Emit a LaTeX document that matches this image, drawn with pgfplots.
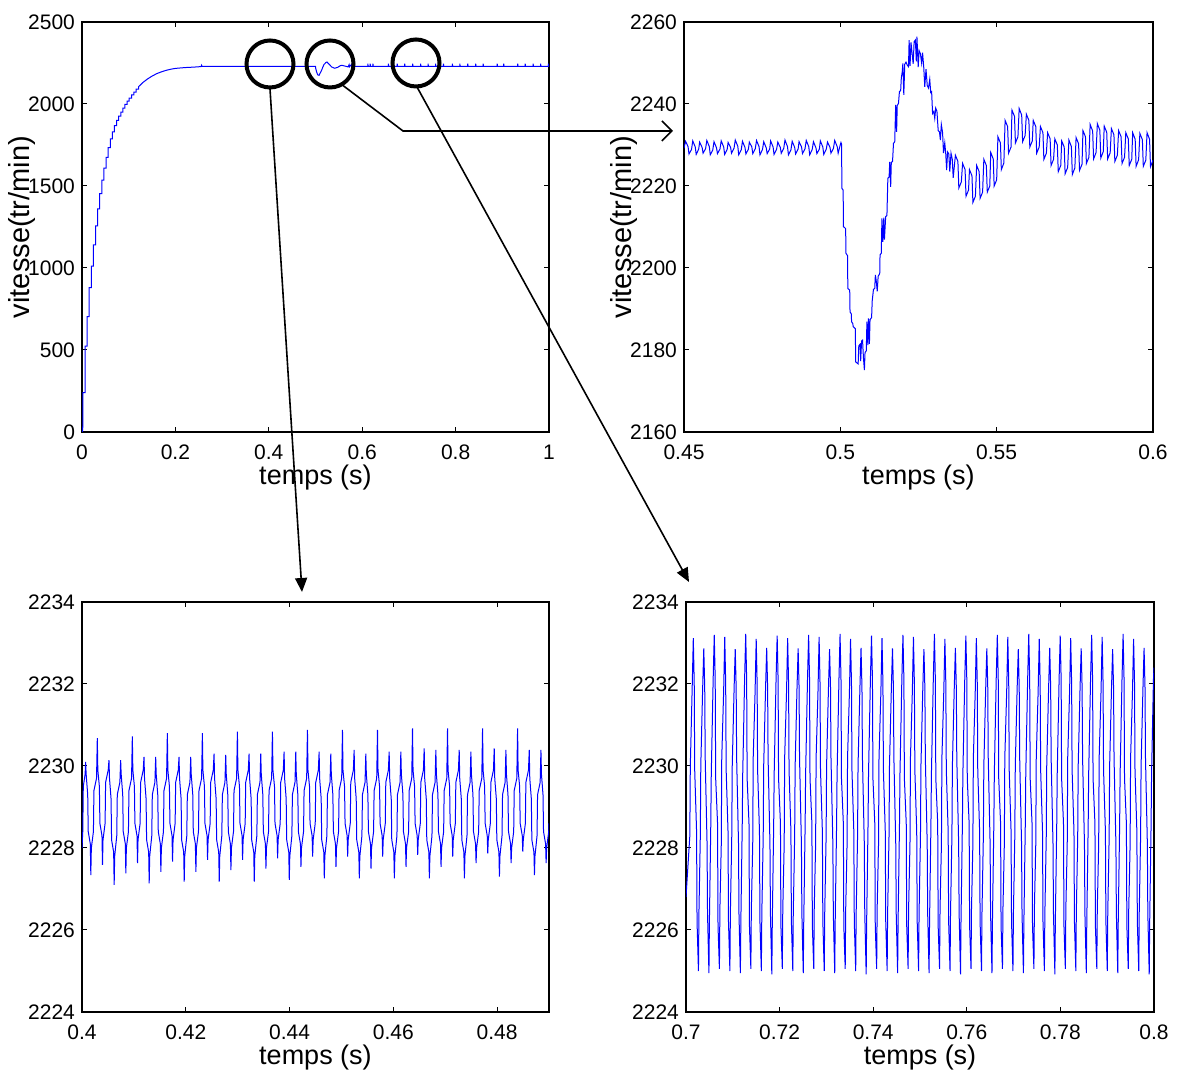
\documentclass[border=0pt]{standalone}
\usepackage{pgfplots}
\pgfplotsset{compat=1.18}
\usepackage{fontspec}
\setmainfont{Liberation Sans}
\usetikzlibrary{arrows.meta}
\pgfplotsset{
  mat/.style={
    scale only axis, anchor=south west, height=205pt,
    tick align=inside, major tick length=2.5pt,
    every tick/.style={black, line width=0.5pt},
    axis line style={line width=0.6pt},
    /pgf/number format/assume math mode=true,
    /pgf/number format/1000 sep={},
    scaled ticks=false,
    ticklabel style={font=\fontsize{10.5}{12}\selectfont},
    xticklabel style={anchor=center, yshift=-10pt},
    xlabel style={font=\fontsize{13.5}{15}\selectfont, at={(axis description cs:0.5,-0.112)}, anchor=center},
    ylabel style={font=\fontsize{14.5}{16}\selectfont, at={(axis description cs:-0.128,0.5)}, anchor=center},
  },
  sig/.style={blue, line width=0.5pt, mark=none},
}
\begin{document}
\begin{tikzpicture}
\path[use as bounding box] (0,0) rectangle (589.5pt,535pt);

% top-left
\begin{axis}[mat, at={(41pt,319pt)}, width=233.5pt,
  xmin=0, xmax=1, ymin=0, ymax=2500,
  xtick={0,0.2,0.4,0.6,0.8,1}, ytick={0,500,1000,1500,2000,2500},
  xlabel={temps (s)}, ylabel={vitesse(tr/min)}]
\addplot[sig] coordinates {
(0,0) (0.0015,0) (0.0015,30) (0.002,30) (0.002,240) (0.0065,240) (0.0065,524) (0.011,524) (0.011,704) (0.0155,704) (0.0155,880) (0.02,880) (0.02,1011) (0.0245,1011) (0.0245,1141) (0.029,1141) (0.029,1257) (0.0335,1257) (0.0335,1360) (0.038,1360) (0.038,1453) (0.0425,1453) (0.0425,1536) (0.047,1536) (0.047,1609) (0.0515,1609) (0.0515,1675) (0.056,1675) (0.056,1734) (0.0605,1734) (0.0605,1787) (0.065,1787) (0.065,1830) (0.0695,1830) (0.0695,1868) (0.074,1868) (0.074,1900) (0.0785,1900) (0.0785,1926) (0.083,1926) (0.083,1950) (0.0875,1950) (0.0875,1975) (0.092,1975) (0.092,1998) (0.0965,1998) (0.0965,2018) (0.101,2018) (0.101,2036) (0.106,2036) (0.106,2055) (0.111,2055) (0.111,2073) (0.116,2073) (0.116,2090) (0.121,2090) (0.121,2105) (0.13,2130) (0.14,2152) (0.15,2170) (0.16,2185) (0.17,2196) (0.18,2205) (0.19,2212) (0.2,2217) (0.22,2222) (0.24,2225) (0.255,2228) (0.256,2236) (0.257,2229) (0.26,2229)
(0.5,2229) (0.5004,2218) (0.5024,2195) (0.5049,2177) (0.5077,2175) (0.5095,2186) (0.5127,2203) (0.5153,2222) (0.518,2240) (0.522,2252) (0.5247,2256) (0.527,2248) (0.53,2240) (0.5345,2226) (0.541,2218) (0.548,2224) (0.552,2232) (0.556,2236) (0.562,2232) (0.57,2226) (0.572,2240) (0.573,2227) (0.577,2241) (0.578,2228) (0.58,2232) (0.582,2244) (0.583,2230) (0.59,2229) (0.6,2229)
(0.612,2229) (0.612,2246) (0.6128,2229) (0.617,2229) (0.617,2246) (0.6178,2229) (0.623,2229) (0.623,2246) (0.6238,2229)
(0.656,2229) (0.656,2246) (0.6568,2229) (0.675,2229) (0.675,2246) (0.6758,2229) (0.691,2229) (0.691,2246) (0.6918,2229)
(0.708,2229) (0.708,2246) (0.7088,2229) (0.725,2229) (0.725,2246) (0.7258,2229) (0.741,2229) (0.741,2246) (0.7418,2229)
(0.757,2229) (0.757,2246) (0.7578,2229) (0.774,2229) (0.774,2246) (0.7748,2229) (0.793,2229) (0.793,2246) (0.7938,2229)
(0.809,2229) (0.809,2246) (0.8098,2229) (0.826,2229) (0.826,2246) (0.8268,2229) (0.843,2229) (0.843,2246) (0.8438,2229)
(0.859,2229) (0.859,2246) (0.8598,2229) (0.889,2229) (0.889,2246) (0.8898,2229) (0.903,2229) (0.903,2246) (0.9038,2229)
(0.933,2229) (0.933,2246) (0.9338,2229) (0.949,2229) (0.949,2246) (0.9498,2229) (0.966,2229) (0.966,2246) (0.9668,2229)
(0.982,2229) (0.982,2246) (0.9828,2229) (0.9985,2229) (0.9985,2246) (0.9993,2229) (1,2229)
};
\end{axis}

% top-right
\begin{axis}[mat, at={(342pt,319pt)}, width=234.5pt,
  xmin=0.45, xmax=0.6, ymin=2160, ymax=2260,
  xtick={0.45,0.5,0.55,0.6}, ytick={2160,2180,2200,2220,2240,2260},
  xlabel={temps (s)}, ylabel={vitesse(tr/min)}]
\addplot[sig] coordinates {
(0.4500,2229.2)
(0.4505,2230.9) (0.4513,2229.6) (0.4516,2227.8) (0.4524,2228.9)
(0.4528,2231.0) (0.4536,2229.5) (0.4539,2227.7) (0.4547,2229.0)
(0.4550,2230.7) (0.4558,2229.4) (0.4561,2228.0) (0.4569,2229.1)
(0.4573,2231.1) (0.4581,2229.6) (0.4584,2227.6) (0.4592,2228.8)
(0.4596,2230.8) (0.4604,2229.3) (0.4607,2227.9) (0.4615,2229.0)
(0.4619,2231.0) (0.4627,2229.5) (0.4630,2227.7) (0.4638,2228.9)
(0.4641,2230.6) (0.4649,2229.4) (0.4652,2228.0) (0.4660,2229.2)
(0.4664,2231.2) (0.4672,2229.7) (0.4675,2227.6) (0.4683,2228.8)
(0.4687,2230.9) (0.4695,2229.4) (0.4698,2227.8) (0.4706,2229.0)
(0.4709,2230.7) (0.4717,2229.5) (0.4720,2227.9) (0.4728,2229.1)
(0.4732,2231.1) (0.4740,2229.6) (0.4743,2227.6) (0.4751,2228.9)
(0.4755,2230.8) (0.4763,2229.3) (0.4766,2227.9) (0.4774,2229.0)
(0.4777,2231.0) (0.4785,2229.5) (0.4788,2227.7) (0.4796,2228.9)
(0.4800,2230.7) (0.4808,2229.4) (0.4811,2228.0) (0.4819,2229.2)
(0.4823,2231.2) (0.4831,2229.6) (0.4834,2227.6) (0.4842,2228.8)
(0.4846,2230.9) (0.4854,2229.4) (0.4857,2227.8) (0.4865,2229.0)
(0.4868,2230.8) (0.4876,2229.5) (0.4879,2227.9) (0.4887,2229.1)
(0.4891,2231.1) (0.4899,2229.6) (0.4902,2227.6) (0.4910,2228.9)
(0.4914,2230.8) (0.4922,2229.3) (0.4925,2227.9) (0.4933,2229.0)
(0.4936,2231.0) (0.4944,2229.5) (0.4947,2227.7) (0.4955,2229.0)
(0.4959,2230.7) (0.4967,2229.4) (0.4970,2228.0) (0.4978,2229.2)
(0.4982,2231.1) (0.4990,2229.6) (0.4993,2228.0) (0.4999,2229.8)
(0.5002,2230.6) (0.5004,2230.2)
(0.5005,2219.4) (0.5009,2219.0) (0.5010,2210.1) (0.5017,2209.6) (0.5018,2203.6) (0.5023,2203.0) (0.5024,2195.0) (0.5030,2194.6)
(0.5031,2189.3) (0.5035,2188.8) (0.5036,2186.9) (0.5040,2186.4) (0.5041,2185.7) (0.5048,2185.2) (0.5049,2177.1) (0.5057,2176.6)
(0.5059,2181.0) (0.5063,2181.4) (0.5065,2177.3) (0.5068,2182.2) (0.5071,2182.4) (0.5074,2178.0) (0.5077,2175.1) (0.5079,2179.4)
(0.5083,2179.8) (0.5085,2186.9) (0.5088,2181.2) (0.5090,2187.7) (0.5093,2181.5) (0.5095,2187.4) (0.5100,2187.9) (0.5102,2192.0)
(0.5106,2194.8) (0.5110,2195.0) (0.5112,2198.3) (0.5115,2196.8) (0.5118,2194.3) (0.5121,2198.0) (0.5126,2198.6) (0.5127,2203.2)
(0.5131,2203.6) (0.5133,2212.1) (0.5136,2206.4) (0.5139,2212.3) (0.5141,2206.9) (0.5145,2212.5) (0.5149,2212.8) (0.5152,2221.9)
(0.5156,2222.2) (0.5158,2225.9) (0.5161,2219.8) (0.5163,2225.7) (0.5167,2226.0) (0.5170,2230.4) (0.5174,2230.8) (0.5177,2239.8)
(0.5180,2233.2) (0.5182,2239.6) (0.5186,2240.2) (0.5189,2243.0) (0.5193,2243.3) (0.5195,2246.3) (0.5198,2247.9) (0.5200,2249.9)
(0.5203,2242.2) (0.5206,2249.7) (0.5210,2250.2) (0.5214,2249.5) (0.5218,2249.1) (0.5220,2255.6) (0.5223,2249.3) (0.5226,2255.0)
(0.5230,2252.0) (0.5233,2249.8) (0.5236,2255.2) (0.5240,2255.6) (0.5243,2250.4) (0.5245,2256.4) (0.5249,2249.0) (0.5252,2253.0)
(0.5256,2252.3) (0.5260,2250.0) (0.5263,2252.5) (0.5267,2248.7) (0.5270,2244.2) (0.5274,2248.5) (0.5278,2244.5) (0.5282,2243.9)
(0.5286,2246.0) (0.5289,2242.8) (0.5292,2243.0) (0.5295,2237.7) (0.5299,2238.2) (0.5302,2236.5) (0.5305,2239.0) (0.5309,2238.2)
(0.5313,2233.5) (0.5317,2233.2) (0.5320,2231.2) (0.5323,2235.0) (0.5327,2233.0) (0.5330,2228.0) (0.5334,2230.5) (0.5337,2228.0)
(0.5340,2223.9) (0.5343,2228.3) (0.5347,2227.8) (0.5350,2223.5) (0.5354,2228.0) (0.5358,2226.5) (0.5361,2222.0)
(0.5368,2227.5) (0.5376,2226.0) (0.5379,2219.5) (0.5387,2221.0)
(0.5391,2225.5) (0.5399,2224.0) (0.5402,2217.5) (0.5410,2219.0)
(0.5413,2224.0) (0.5421,2222.5) (0.5424,2216.0) (0.5432,2217.5)
(0.5436,2225.0) (0.5444,2223.5) (0.5447,2217.0) (0.5455,2218.5)
(0.5459,2226.5) (0.5467,2225.0) (0.5470,2218.5) (0.5478,2220.0)
(0.5481,2228.2) (0.5489,2226.6) (0.5492,2220.0) (0.5500,2221.5)
(0.5504,2232.0) (0.5512,2230.5) (0.5515,2224.0) (0.5523,2225.6)
(0.5527,2236.0) (0.5535,2234.5) (0.5538,2228.0) (0.5546,2229.5)
(0.5549,2238.5) (0.5557,2237.0) (0.5560,2230.5) (0.5568,2232.0)
(0.5572,2238.9) (0.5580,2237.3) (0.5583,2230.8) (0.5591,2232.3)
(0.5595,2237.5) (0.5603,2236.0) (0.5606,2229.5) (0.5614,2231.0)
(0.5617,2236.0) (0.5625,2234.5) (0.5628,2228.0) (0.5636,2229.5)
(0.5640,2234.5) (0.5648,2233.0) (0.5651,2226.5) (0.5659,2228.0)
(0.5663,2233.0) (0.5671,2231.5) (0.5674,2225.0) (0.5682,2226.5)
(0.5686,2231.5) (0.5694,2230.0) (0.5697,2223.5) (0.5705,2225.0)
(0.5708,2231.0) (0.5716,2229.5) (0.5719,2223.0) (0.5727,2224.5)
(0.5731,2231.2) (0.5739,2229.6) (0.5742,2222.8) (0.5750,2224.4)
(0.5754,2231.8) (0.5762,2230.3) (0.5765,2223.8) (0.5773,2225.3)
(0.5776,2233.5) (0.5784,2232.0) (0.5787,2225.5) (0.5795,2227.0)
(0.5799,2235.0) (0.5807,2233.4) (0.5810,2226.6) (0.5818,2228.2)
(0.5822,2235.2) (0.5830,2233.6) (0.5833,2226.8) (0.5841,2228.4)
(0.5844,2234.6) (0.5852,2233.1) (0.5855,2226.6) (0.5863,2228.1)
(0.5867,2234.0) (0.5875,2232.5) (0.5878,2226.0) (0.5886,2227.5)
(0.5890,2233.5) (0.5898,2232.0) (0.5901,2225.5) (0.5909,2227.0)
(0.5913,2233.0) (0.5921,2231.5) (0.5924,2225.0) (0.5932,2226.5)
(0.5935,2233.0) (0.5943,2231.4) (0.5946,2224.8) (0.5954,2226.4)
(0.5958,2232.8) (0.5966,2231.3) (0.5969,2224.8) (0.5977,2226.3)
(0.5981,2233.0) (0.5989,2231.4) (0.5992,2224.7) (0.6000,2226.3)
};
\end{axis}

% bottom-left
\begin{axis}[mat, at={(41pt,29pt)}, width=233.5pt,
  xmin=0.4, xmax=0.49, ymin=2224, ymax=2234,
  xtick={0.4,0.42,0.44,0.46,0.48}, ytick={2224,2226,2228,2230,2232,2234},
  xlabel={temps (s)}]
\addplot[sig] coordinates {
(0.40000,2228.0) (0.40015,2228.4) (0.40025,2229.5) (0.40060,2229.8)
(0.40070,2230.10) (0.40080,2229.8) (0.40110,2229.3) (0.40120,2228.4) (0.40160,2228.1) (0.40170,2227.34) (0.40180,2228.0) (0.40220,2228.4) (0.40230,2229.4) (0.40280,2229.7)
(0.40295,2230.68) (0.40305,2229.9) (0.40335,2229.5) (0.40345,2228.6) (0.40385,2228.3) (0.40395,2227.59) (0.40405,2228.2) (0.40445,2228.6) (0.40455,2229.6) (0.40505,2229.9)
(0.40520,2230.14) (0.40530,2229.7) (0.40560,2229.2) (0.40570,2228.2) (0.40610,2227.9) (0.40620,2227.10) (0.40630,2227.8) (0.40670,2228.3) (0.40680,2229.3) (0.40730,2229.6)
(0.40745,2230.14) (0.40755,2229.8) (0.40785,2229.3) (0.40795,2228.4) (0.40835,2228.1) (0.40845,2227.38) (0.40855,2228.0) (0.40895,2228.4) (0.40905,2229.4) (0.40955,2229.7)
(0.40970,2230.72) (0.40980,2229.9) (0.41010,2229.5) (0.41020,2228.6) (0.41060,2228.3) (0.41070,2227.63) (0.41080,2228.2) (0.41120,2228.6) (0.41130,2229.6) (0.41180,2229.9)
(0.41195,2230.22) (0.41205,2229.7) (0.41235,2229.2) (0.41245,2228.2) (0.41285,2227.9) (0.41295,2227.14) (0.41305,2227.8) (0.41345,2228.3) (0.41355,2229.3) (0.41405,2229.6)
(0.41420,2230.22) (0.41430,2229.8) (0.41460,2229.3) (0.41470,2228.4) (0.41510,2228.1) (0.41520,2227.42) (0.41530,2228.0) (0.41570,2228.4) (0.41580,2229.4) (0.41630,2229.7)
(0.41645,2230.80) (0.41655,2229.9) (0.41685,2229.5) (0.41695,2228.6) (0.41735,2228.3) (0.41745,2227.67) (0.41755,2228.2) (0.41795,2228.6) (0.41805,2229.6) (0.41855,2229.9)
(0.41870,2230.22) (0.41880,2229.7) (0.41910,2229.2) (0.41920,2228.2) (0.41960,2227.9) (0.41970,2227.18) (0.41980,2227.8) (0.42020,2228.3) (0.42030,2229.3) (0.42080,2229.6)
(0.42095,2230.22) (0.42105,2229.8) (0.42135,2229.3) (0.42145,2228.4) (0.42185,2228.1) (0.42195,2227.42) (0.42205,2228.0) (0.42245,2228.4) (0.42255,2229.4) (0.42305,2229.7)
(0.42320,2230.80) (0.42330,2229.9) (0.42360,2229.5) (0.42370,2228.6) (0.42410,2228.3) (0.42420,2227.71) (0.42430,2228.2) (0.42470,2228.6) (0.42480,2229.6) (0.42530,2229.9)
(0.42545,2230.30) (0.42555,2229.7) (0.42585,2229.2) (0.42595,2228.2) (0.42635,2227.9) (0.42645,2227.18) (0.42655,2227.8) (0.42695,2228.3) (0.42705,2229.3) (0.42755,2229.6)
(0.42770,2230.27) (0.42780,2229.8) (0.42810,2229.3) (0.42820,2228.4) (0.42860,2228.1) (0.42870,2227.46) (0.42880,2228.0) (0.42920,2228.4) (0.42930,2229.4) (0.42980,2229.7)
(0.42995,2230.84) (0.43005,2229.9) (0.43035,2229.5) (0.43045,2228.6) (0.43085,2228.3) (0.43095,2227.71) (0.43105,2228.2) (0.43145,2228.6) (0.43155,2229.6) (0.43205,2229.9)
(0.43220,2230.30) (0.43230,2229.7) (0.43260,2229.2) (0.43270,2228.2) (0.43310,2227.9) (0.43320,2227.18) (0.43330,2227.8) (0.43370,2228.3) (0.43380,2229.3) (0.43430,2229.6)
(0.43445,2230.30) (0.43455,2229.8) (0.43485,2229.3) (0.43495,2228.4) (0.43535,2228.1) (0.43545,2227.50) (0.43555,2228.0) (0.43595,2228.4) (0.43605,2229.4) (0.43655,2229.7)
(0.43670,2230.84) (0.43680,2229.9) (0.43710,2229.5) (0.43720,2228.6) (0.43760,2228.3) (0.43770,2227.75) (0.43780,2228.2) (0.43820,2228.6) (0.43830,2229.6) (0.43880,2229.9)
(0.43895,2230.35) (0.43905,2229.7) (0.43935,2229.2) (0.43945,2228.2) (0.43985,2227.9) (0.43995,2227.22) (0.44005,2227.8) (0.44045,2228.3) (0.44055,2229.3) (0.44105,2229.6)
(0.44120,2230.35) (0.44130,2229.8) (0.44160,2229.3) (0.44170,2228.4) (0.44210,2228.1) (0.44220,2227.54) (0.44230,2228.0) (0.44270,2228.4) (0.44280,2229.4) (0.44330,2229.7)
(0.44345,2230.88) (0.44355,2229.9) (0.44385,2229.5) (0.44395,2228.6) (0.44435,2228.3) (0.44445,2227.79) (0.44455,2228.2) (0.44495,2228.6) (0.44505,2229.6) (0.44555,2229.9)
(0.44570,2230.35) (0.44580,2229.7) (0.44610,2229.2) (0.44620,2228.2) (0.44660,2227.9) (0.44670,2227.26) (0.44680,2227.8) (0.44720,2228.3) (0.44730,2229.3) (0.44780,2229.6)
(0.44795,2230.30) (0.44805,2229.8) (0.44835,2229.3) (0.44845,2228.4) (0.44885,2228.1) (0.44895,2227.54) (0.44905,2228.0) (0.44945,2228.4) (0.44955,2229.4) (0.45005,2229.7)
(0.45020,2230.88) (0.45030,2229.9) (0.45060,2229.5) (0.45070,2228.6) (0.45110,2228.3) (0.45120,2227.79) (0.45130,2228.2) (0.45170,2228.6) (0.45180,2229.6) (0.45230,2229.9)
(0.45245,2230.39) (0.45255,2229.7) (0.45285,2229.2) (0.45295,2228.2) (0.45335,2227.9) (0.45345,2227.26) (0.45355,2227.8) (0.45395,2228.3) (0.45405,2229.3) (0.45455,2229.6)
(0.45470,2230.30) (0.45480,2229.8) (0.45510,2229.3) (0.45520,2228.4) (0.45560,2228.1) (0.45570,2227.50) (0.45580,2228.0) (0.45620,2228.4) (0.45630,2229.4) (0.45680,2229.7)
(0.45695,2230.88) (0.45705,2229.9) (0.45735,2229.5) (0.45745,2228.6) (0.45785,2228.3) (0.45795,2227.79) (0.45805,2228.2) (0.45845,2228.6) (0.45855,2229.6) (0.45905,2229.9)
(0.45920,2230.35) (0.45930,2229.7) (0.45960,2229.2) (0.45970,2228.2) (0.46010,2227.9) (0.46020,2227.26) (0.46030,2227.8) (0.46070,2228.3) (0.46080,2229.3) (0.46130,2229.6)
(0.46145,2230.35) (0.46155,2229.8) (0.46185,2229.3) (0.46195,2228.4) (0.46235,2228.1) (0.46245,2227.54) (0.46255,2228.0) (0.46295,2228.4) (0.46305,2229.4) (0.46355,2229.7)
(0.46370,2230.92) (0.46380,2229.9) (0.46410,2229.5) (0.46420,2228.6) (0.46460,2228.3) (0.46470,2227.83) (0.46480,2228.2) (0.46520,2228.6) (0.46530,2229.6) (0.46580,2229.9)
(0.46595,2230.43) (0.46605,2229.7) (0.46635,2229.2) (0.46645,2228.2) (0.46685,2227.9) (0.46695,2227.26) (0.46705,2227.8) (0.46745,2228.3) (0.46755,2229.3) (0.46805,2229.6)
(0.46820,2230.39) (0.46830,2229.8) (0.46860,2229.3) (0.46870,2228.4) (0.46910,2228.1) (0.46920,2227.54) (0.46930,2228.0) (0.46970,2228.4) (0.46980,2229.4) (0.47030,2229.7)
(0.47045,2230.92) (0.47055,2229.9) (0.47085,2229.5) (0.47095,2228.6) (0.47135,2228.3) (0.47145,2227.79) (0.47155,2228.2) (0.47195,2228.6) (0.47205,2229.6) (0.47255,2229.9)
(0.47270,2230.39) (0.47280,2229.7) (0.47310,2229.2) (0.47320,2228.2) (0.47360,2227.9) (0.47370,2227.26) (0.47380,2227.8) (0.47420,2228.3) (0.47430,2229.3) (0.47480,2229.6)
(0.47495,2230.35) (0.47505,2229.8) (0.47535,2229.3) (0.47545,2228.4) (0.47585,2228.1) (0.47595,2227.63) (0.47605,2228.0) (0.47645,2228.4) (0.47655,2229.4) (0.47705,2229.7)
(0.47720,2230.92) (0.47730,2229.9) (0.47760,2229.5) (0.47770,2228.6) (0.47810,2228.3) (0.47820,2227.87) (0.47830,2228.2) (0.47870,2228.6) (0.47880,2229.6) (0.47930,2229.9)
(0.47945,2230.43) (0.47955,2229.7) (0.47985,2229.2) (0.47995,2228.2) (0.48035,2227.9) (0.48045,2227.30) (0.48055,2227.8) (0.48095,2228.3) (0.48105,2229.3) (0.48155,2229.6)
(0.48170,2230.39) (0.48180,2229.8) (0.48210,2229.3) (0.48220,2228.4) (0.48260,2228.1) (0.48270,2227.63) (0.48280,2228.0) (0.48320,2228.4) (0.48330,2229.4) (0.48380,2229.7)
(0.48395,2230.92) (0.48405,2229.9) (0.48435,2229.5) (0.48445,2228.6) (0.48485,2228.3) (0.48495,2227.91) (0.48505,2228.2) (0.48545,2228.6) (0.48555,2229.6) (0.48605,2229.9)
(0.48620,2230.39) (0.48630,2229.7) (0.48660,2229.2) (0.48670,2228.2) (0.48710,2227.9) (0.48720,2227.34) (0.48730,2227.8) (0.48770,2228.3) (0.48780,2229.3) (0.48830,2229.6)
(0.48845,2230.39) (0.48855,2229.8) (0.48885,2229.3) (0.48895,2228.4) (0.48935,2228.1) (0.48945,2227.63) (0.48955,2228.0) (0.48995,2228.4) (0.49000,2228.6)
};
\end{axis}

% bottom-right
\begin{axis}[mat, at={(343pt,29pt)}, width=234pt,
  xmin=0.7, xmax=0.8, ymin=2224, ymax=2234,
  xtick={0.7,0.72,0.74,0.76,0.78,0.8}, ytick={2224,2226,2228,2230,2232,2234},
  xlabel={temps (s)}]
\addplot[sig] coordinates {
(0.70000,2226.8) (0.70082,2228.3) (0.70092,2230.0) (0.70132,2231.9)
(0.70156,2233.12) (0.70176,2232.0) (0.70186,2229.9) (0.70226,2228.4) (0.70236,2226.2) (0.70266,2225.00) (0.70276,2226.4) (0.70306,2228.3) (0.70316,2230.0) (0.70356,2231.9)
(0.70380,2232.87) (0.70400,2231.9) (0.70410,2230.2) (0.70450,2228.1) (0.70460,2226.4) (0.70490,2224.95) (0.70500,2226.2) (0.70530,2228.6) (0.70540,2229.8) (0.70580,2232.1)
(0.70604,2233.20) (0.70624,2232.1) (0.70634,2229.7) (0.70674,2228.6) (0.70684,2226.1) (0.70714,2225.05) (0.70724,2226.5) (0.70754,2228.1) (0.70764,2230.2) (0.70804,2231.8)
(0.70828,2233.15) (0.70848,2232.0) (0.70858,2229.9) (0.70898,2228.4) (0.70908,2226.2) (0.70938,2225.00) (0.70948,2226.4) (0.70978,2228.3) (0.70988,2230.0) (0.71028,2231.9)
(0.71052,2232.85) (0.71072,2231.9) (0.71082,2230.2) (0.71122,2228.1) (0.71132,2226.4) (0.71162,2224.95) (0.71172,2226.2) (0.71202,2228.6) (0.71212,2229.8) (0.71252,2232.1)
(0.71276,2233.22) (0.71296,2232.1) (0.71306,2229.7) (0.71346,2228.6) (0.71356,2226.1) (0.71386,2225.05) (0.71396,2226.5) (0.71426,2228.1) (0.71436,2230.2) (0.71476,2231.8)
(0.71500,2233.10) (0.71520,2232.0) (0.71530,2229.9) (0.71570,2228.4) (0.71580,2226.2) (0.71610,2225.00) (0.71620,2226.4) (0.71650,2228.3) (0.71660,2230.0) (0.71700,2231.9)
(0.71724,2232.88) (0.71744,2231.9) (0.71754,2230.2) (0.71794,2228.1) (0.71804,2226.4) (0.71834,2224.92) (0.71844,2226.2) (0.71874,2228.6) (0.71884,2229.8) (0.71924,2232.1)
(0.71948,2233.18) (0.71968,2232.1) (0.71978,2229.7) (0.72018,2228.6) (0.72028,2226.1) (0.72058,2225.05) (0.72068,2226.5) (0.72098,2228.1) (0.72108,2230.2) (0.72148,2231.8)
(0.72172,2233.12) (0.72192,2232.0) (0.72202,2229.9) (0.72242,2228.4) (0.72252,2226.2) (0.72282,2225.00) (0.72292,2226.4) (0.72322,2228.3) (0.72332,2230.0) (0.72372,2231.9)
(0.72396,2232.87) (0.72416,2231.9) (0.72426,2230.2) (0.72466,2228.1) (0.72476,2226.4) (0.72506,2224.95) (0.72516,2226.2) (0.72546,2228.6) (0.72556,2229.8) (0.72596,2232.1)
(0.72620,2233.20) (0.72640,2232.1) (0.72650,2229.7) (0.72690,2228.6) (0.72700,2226.1) (0.72730,2225.05) (0.72740,2226.5) (0.72770,2228.1) (0.72780,2230.2) (0.72820,2231.8)
(0.72844,2233.15) (0.72864,2232.0) (0.72874,2229.9) (0.72914,2228.4) (0.72924,2226.2) (0.72954,2225.00) (0.72964,2226.4) (0.72994,2228.3) (0.73004,2230.0) (0.73044,2231.9)
(0.73068,2232.85) (0.73088,2231.9) (0.73098,2230.2) (0.73138,2228.1) (0.73148,2226.4) (0.73178,2224.95) (0.73188,2226.2) (0.73218,2228.6) (0.73228,2229.8) (0.73268,2232.1)
(0.73292,2233.22) (0.73312,2232.1) (0.73322,2229.7) (0.73362,2228.6) (0.73372,2226.1) (0.73402,2225.05) (0.73412,2226.5) (0.73442,2228.1) (0.73452,2230.2) (0.73492,2231.8)
(0.73516,2233.10) (0.73536,2232.0) (0.73546,2229.9) (0.73586,2228.4) (0.73596,2226.2) (0.73626,2225.00) (0.73636,2226.4) (0.73666,2228.3) (0.73676,2230.0) (0.73716,2231.9)
(0.73740,2232.88) (0.73760,2231.9) (0.73770,2230.2) (0.73810,2228.1) (0.73820,2226.4) (0.73850,2224.92) (0.73860,2226.2) (0.73890,2228.6) (0.73900,2229.8) (0.73940,2232.1)
(0.73964,2233.18) (0.73984,2232.1) (0.73994,2229.7) (0.74034,2228.6) (0.74044,2226.1) (0.74074,2225.05) (0.74084,2226.5) (0.74114,2228.1) (0.74124,2230.2) (0.74164,2231.8)
(0.74188,2233.12) (0.74208,2232.0) (0.74218,2229.9) (0.74258,2228.4) (0.74268,2226.2) (0.74298,2225.00) (0.74308,2226.4) (0.74338,2228.3) (0.74348,2230.0) (0.74388,2231.9)
(0.74412,2232.87) (0.74432,2231.9) (0.74442,2230.2) (0.74482,2228.1) (0.74492,2226.4) (0.74522,2224.95) (0.74532,2226.2) (0.74562,2228.6) (0.74572,2229.8) (0.74612,2232.1)
(0.74636,2233.20) (0.74656,2232.1) (0.74666,2229.7) (0.74706,2228.6) (0.74716,2226.1) (0.74746,2225.05) (0.74756,2226.5) (0.74786,2228.1) (0.74796,2230.2) (0.74836,2231.8)
(0.74860,2233.15) (0.74880,2232.0) (0.74890,2229.9) (0.74930,2228.4) (0.74940,2226.2) (0.74970,2225.00) (0.74980,2226.4) (0.75010,2228.3) (0.75020,2230.0) (0.75060,2231.9)
(0.75084,2232.85) (0.75104,2231.9) (0.75114,2230.2) (0.75154,2228.1) (0.75164,2226.4) (0.75194,2224.95) (0.75204,2226.2) (0.75234,2228.6) (0.75244,2229.8) (0.75284,2232.1)
(0.75308,2233.22) (0.75328,2232.1) (0.75338,2229.7) (0.75378,2228.6) (0.75388,2226.1) (0.75418,2225.05) (0.75428,2226.5) (0.75458,2228.1) (0.75468,2230.2) (0.75508,2231.8)
(0.75532,2233.10) (0.75552,2232.0) (0.75562,2229.9) (0.75602,2228.4) (0.75612,2226.2) (0.75642,2225.00) (0.75652,2226.4) (0.75682,2228.3) (0.75692,2230.0) (0.75732,2231.9)
(0.75756,2232.88) (0.75776,2231.9) (0.75786,2230.2) (0.75826,2228.1) (0.75836,2226.4) (0.75866,2224.92) (0.75876,2226.2) (0.75906,2228.6) (0.75916,2229.8) (0.75956,2232.1)
(0.75980,2233.18) (0.76000,2232.1) (0.76010,2229.7) (0.76050,2228.6) (0.76060,2226.1) (0.76090,2225.05) (0.76100,2226.5) (0.76130,2228.1) (0.76140,2230.2) (0.76180,2231.8)
(0.76204,2233.12) (0.76224,2232.0) (0.76234,2229.9) (0.76274,2228.4) (0.76284,2226.2) (0.76314,2225.00) (0.76324,2226.4) (0.76354,2228.3) (0.76364,2230.0) (0.76404,2231.9)
(0.76428,2232.87) (0.76448,2231.9) (0.76458,2230.2) (0.76498,2228.1) (0.76508,2226.4) (0.76538,2224.95) (0.76548,2226.2) (0.76578,2228.6) (0.76588,2229.8) (0.76628,2232.1)
(0.76652,2233.20) (0.76672,2232.1) (0.76682,2229.7) (0.76722,2228.6) (0.76732,2226.1) (0.76762,2225.05) (0.76772,2226.5) (0.76802,2228.1) (0.76812,2230.2) (0.76852,2231.8)
(0.76876,2233.15) (0.76896,2232.0) (0.76906,2229.9) (0.76946,2228.4) (0.76956,2226.2) (0.76986,2225.00) (0.76996,2226.4) (0.77026,2228.3) (0.77036,2230.0) (0.77076,2231.9)
(0.77100,2232.85) (0.77120,2231.9) (0.77130,2230.2) (0.77170,2228.1) (0.77180,2226.4) (0.77210,2224.95) (0.77220,2226.2) (0.77250,2228.6) (0.77260,2229.8) (0.77300,2232.1)
(0.77324,2233.22) (0.77344,2232.1) (0.77354,2229.7) (0.77394,2228.6) (0.77404,2226.1) (0.77434,2225.05) (0.77444,2226.5) (0.77474,2228.1) (0.77484,2230.2) (0.77524,2231.8)
(0.77548,2233.10) (0.77568,2232.0) (0.77578,2229.9) (0.77618,2228.4) (0.77628,2226.2) (0.77658,2225.00) (0.77668,2226.4) (0.77698,2228.3) (0.77708,2230.0) (0.77748,2231.9)
(0.77772,2232.88) (0.77792,2231.9) (0.77802,2230.2) (0.77842,2228.1) (0.77852,2226.4) (0.77882,2224.92) (0.77892,2226.2) (0.77922,2228.6) (0.77932,2229.8) (0.77972,2232.1)
(0.77996,2233.18) (0.78016,2232.1) (0.78026,2229.7) (0.78066,2228.6) (0.78076,2226.1) (0.78106,2225.05) (0.78116,2226.5) (0.78146,2228.1) (0.78156,2230.2) (0.78196,2231.8)
(0.78220,2233.12) (0.78240,2232.0) (0.78250,2229.9) (0.78290,2228.4) (0.78300,2226.2) (0.78330,2225.00) (0.78340,2226.4) (0.78370,2228.3) (0.78380,2230.0) (0.78420,2231.9)
(0.78444,2232.87) (0.78464,2231.9) (0.78474,2230.2) (0.78514,2228.1) (0.78524,2226.4) (0.78554,2224.95) (0.78564,2226.2) (0.78594,2228.6) (0.78604,2229.8) (0.78644,2232.1)
(0.78668,2233.20) (0.78688,2232.1) (0.78698,2229.7) (0.78738,2228.6) (0.78748,2226.1) (0.78778,2225.05) (0.78788,2226.5) (0.78818,2228.1) (0.78828,2230.2) (0.78868,2231.8)
(0.78892,2233.15) (0.78912,2232.0) (0.78922,2229.9) (0.78962,2228.4) (0.78972,2226.2) (0.79002,2225.00) (0.79012,2226.4) (0.79042,2228.3) (0.79052,2230.0) (0.79092,2231.9)
(0.79116,2232.85) (0.79136,2231.9) (0.79146,2230.2) (0.79186,2228.1) (0.79196,2226.4) (0.79226,2224.95) (0.79236,2226.2) (0.79266,2228.6) (0.79276,2229.8) (0.79316,2232.1)
(0.79340,2233.22) (0.79360,2232.1) (0.79370,2229.7) (0.79410,2228.6) (0.79420,2226.1) (0.79450,2225.05) (0.79460,2226.5) (0.79490,2228.1) (0.79500,2230.2) (0.79540,2231.8)
(0.79564,2233.10) (0.79584,2232.0) (0.79594,2229.9) (0.79634,2228.4) (0.79644,2226.2) (0.79674,2225.00) (0.79684,2226.4) (0.79714,2228.3) (0.79724,2230.0) (0.79764,2231.9)
(0.79788,2232.88) (0.79808,2231.9) (0.79818,2230.2) (0.79858,2228.1) (0.79868,2226.4) (0.79898,2224.92) (0.79908,2226.2) (0.79938,2228.6) (0.79948,2229.8) (0.79988,2232.1)
(0.80000,2232.4)
};
\end{axis}

% annotations
\draw[line width=2pt] (135pt,503pt) circle (11.75pt);
\draw[line width=2pt] (165pt,503pt) circle (11.75pt);
\draw[line width=2pt] (208pt,503.5pt) circle (11.75pt);
\draw[line width=0.8pt, -{Triangle[length=7pt,width=6pt]}] (135pt,490.5pt) -- (151pt,239pt);
\draw[line width=0.8pt, -{Straight Barb[length=5pt,width=10pt]}] (170.5pt,493pt) -- (201.5pt,469.5pt) -- (336.5pt,469.5pt);
\draw[line width=0.8pt, -{Triangle[length=7pt,width=6pt]}] (208.5pt,491.5pt) -- (344.5pt,244pt);
\end{tikzpicture}
\end{document}
